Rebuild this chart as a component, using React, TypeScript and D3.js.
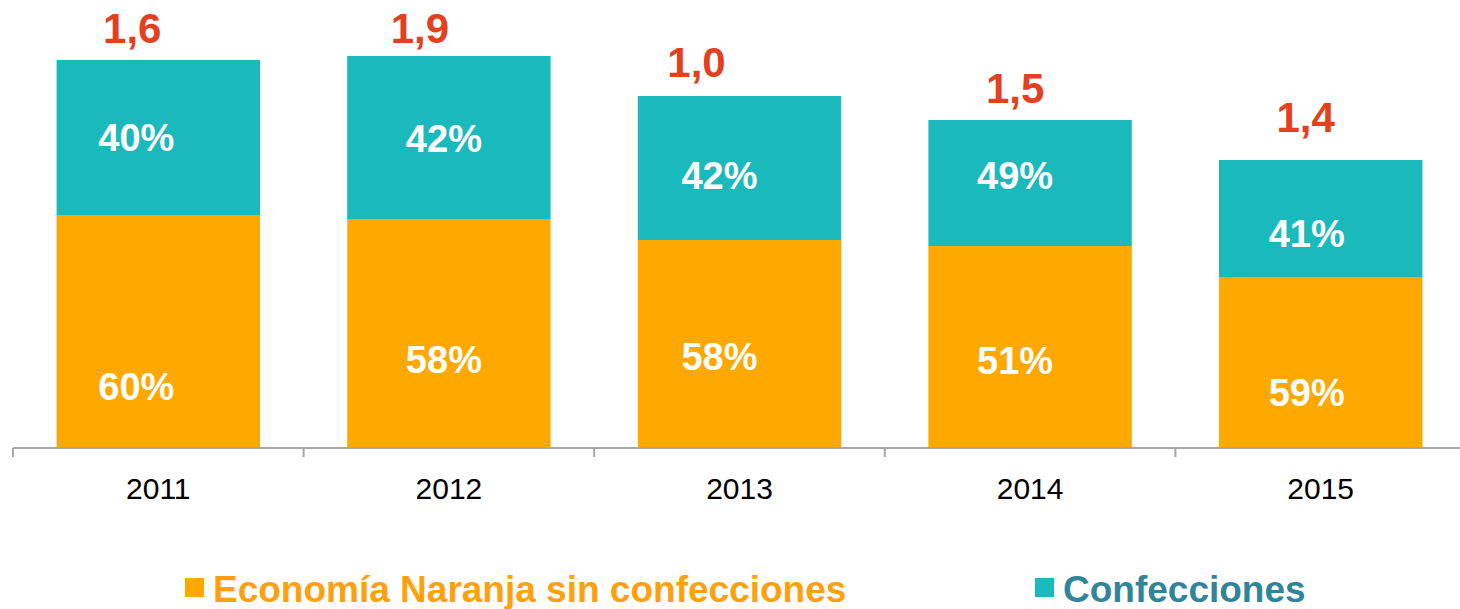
import React, { useEffect, useRef } from 'react';
import * as d3 from 'd3';

// years on the x axis
const years = ['2011', '2012', '2013', '2014', '2015'];
// bar segment heights (relative units)
const naranjaValues = [2.32, 2.28, 2.07, 2.01, 1.7];
const confeccionesValues = [1.55, 1.63, 1.44, 1.26, 1.17];
// labels printed on the bars
const naranjaShares = ['60%', '58%', '58%', '51%', '59%'];
const confeccionesShares = ['40%', '42%', '42%', '49%', '41%'];
const totalLabels = ['1,6', '1,9', '1,0', '1,5', '1,4'];

const seriesNames = ['Economía Naranja sin confecciones', 'Confecciones'];

const FONT = '"Liberation Sans", Arial, sans-serif';
const ORANGE = '#ffa800';
const TEAL = '#1ab9bc';

// hand nudges of the labels, as in the original slide
const shareDx = [-22, -5, -20, -15, -14];
const naranjaDy = [56, 27, 13, 14, 31];
const confeccionesDy = [0, 1, 8, -7, 15];
const totalDx = [-26, -29, -43, -15, -15];
const totalGap = [17, 13, 19, 17, 28];

export default function App() {
  const ref = useRef<SVGSVGElement>(null);

  useEffect(() => {
    document.body.style.margin = '0';
    document.body.style.overflow = 'hidden';

    const width = 1460;
    const height = 609;
    const svg = d3.select(ref.current);
    svg.selectAll('*').remove();
    svg.attr('width', width).attr('height', height);

    const x = d3.scaleBand()
      .domain(years)
      .range([13, 1466])
      .paddingInner(0.3)
      .paddingOuter(0.15);

    const y = d3.scaleLinear()
      .domain([0, 4])
      .range([447, 47]);

    const data = years.map((yr, i) => ({
      year: yr,
      naranja: naranjaValues[i],
      confecciones: confeccionesValues[i],
      i,
    }));

    const stack = d3.stack<any>().keys(['naranja', 'confecciones']);
    const layers = stack(data);
    const colors = [ORANGE, TEAL];

    const g = svg.append('g');

    layers.forEach((layer, li) => {
      g.selectAll(null)
        .data(layer)
        .enter().append('rect')
        .attr('x', d => x(d.data.year)!)
        .attr('y', d => y(d[1]))
        .attr('width', x.bandwidth())
        .attr('height', d => y(d[0]) - y(d[1]))
        .attr('fill', colors[li]);
    });

    // axis
    const x0 = x.range()[0];
    const base = y(0);
    g.append('line')
      .attr('x1', x0).attr('x2', x.range()[1])
      .attr('y1', base + 1).attr('y2', base + 1)
      .attr('stroke', '#a6a6a6').attr('stroke-width', 2);
    g.selectAll(null)
      .data(d3.range(years.length + 1))
      .enter().append('line')
      .attr('x1', i => x0 + i * x.step())
      .attr('x2', i => x0 + i * x.step())
      .attr('y1', base + 1).attr('y2', base + 10)
      .attr('stroke', '#a6a6a6').attr('stroke-width', 2);

    g.selectAll(null)
      .data(data)
      .enter().append('text')
      .attr('x', d => x(d.year)! + x.bandwidth() / 2)
      .attr('y', 499)
      .attr('text-anchor', 'middle')
      .style('font-family', FONT)
      .style('font-size', '30px')
      .attr('fill', '#000')
      .text(d => d.year);

    // share labels
    const shareText = (sel: any) => sel
      .attr('text-anchor', 'middle')
      .attr('dominant-baseline', 'central')
      .style('font-family', FONT)
      .style('font-size', '38px')
      .style('font-weight', 'bold')
      .attr('fill', '#fff');

    g.selectAll(null)
      .data(data)
      .enter().append('text')
      .attr('x', d => x(d.year)! + x.bandwidth() / 2 + shareDx[d.i])
      .attr('y', d => (y(0) + y(d.naranja)) / 2 + naranjaDy[d.i])
      .call(shareText)
      .text(d => naranjaShares[d.i]);

    g.selectAll(null)
      .data(data)
      .enter().append('text')
      .attr('x', d => x(d.year)! + x.bandwidth() / 2 + shareDx[d.i])
      .attr('y', d => (y(d.naranja) + y(d.naranja + d.confecciones)) / 2 + confeccionesDy[d.i])
      .call(shareText)
      .text(d => confeccionesShares[d.i]);

    // totals above the bars
    g.selectAll(null)
      .data(data)
      .enter().append('text')
      .attr('x', d => x(d.year)! + x.bandwidth() / 2 + totalDx[d.i])
      .attr('y', d => y(d.naranja + d.confecciones) - totalGap[d.i])
      .attr('text-anchor', 'middle')
      .style('font-family', FONT)
      .style('font-size', '42px')
      .style('font-weight', 'bold')
      .attr('fill', '#e4401e')
      .text(d => totalLabels[d.i]);

    // legend
    const legend = [
      { name: seriesNames[0], box: ORANGE, text: '#ffa10f', x: 185 },
      { name: seriesNames[1], box: TEAL, text: '#31859b', x: 1035 },
    ];
    const lg = svg.append('g');
    legend.forEach(l => {
      lg.append('rect')
        .attr('x', l.x).attr('y', 578)
        .attr('width', 19).attr('height', 19)
        .attr('fill', l.box);
      lg.append('text')
        .attr('x', l.x + 28).attr('y', 602)
        .style('font-family', FONT)
        .style('font-size', '37px')
        .style('font-weight', 'bold')
        .attr('fill', l.text)
        .text(l.name);
    });
  }, []);

  return <svg ref={ref} style={{ display: 'block' }}></svg>;
}
